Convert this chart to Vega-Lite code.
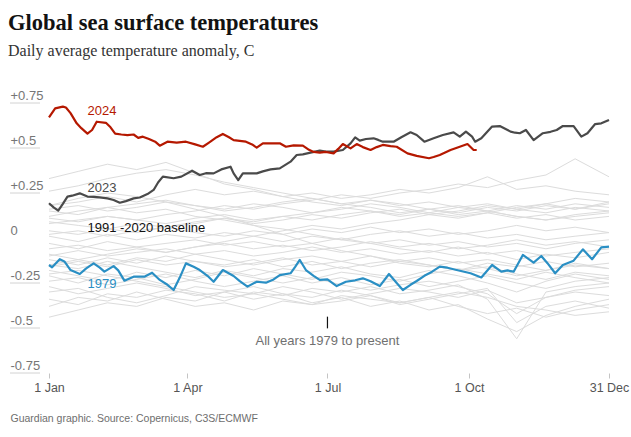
{
  "$schema": "https://vega.github.io/schema/vega-lite/v6.json",
  "autosize": {"type": "none"},
  "width": 618,
  "height": 270,
  "padding": {"left": 10, "top": 103, "right": 3, "bottom": 64},
  "background": "#ffffff",
  "config": {"view": {"stroke": null}},
  "title": {
    "text": "Global sea surface temperatures",
    "subtitle": "Daily average temperature anomaly, C",
    "anchor": "start",
    "frame": "group",
    "font": "Liberation Serif",
    "fontSize": 22.5,
    "fontWeight": "bold",
    "color": "#121212",
    "subtitleFont": "Liberation Serif",
    "subtitleFontSize": 16,
    "subtitleColor": "#333333",
    "subtitlePadding": 9,
    "offset": 30,
    "dx": -2
  },
  "datasets": {
    "grey": [
      {"year":"1982","day":1,"anomaly":-0.44},{"year":"1982","day":20,"anomaly":-0.40},{"year":"1982","day":39,"anomaly":-0.36},{"year":"1982","day":58,"anomaly":-0.38},{"year":"1982","day":77,"anomaly":-0.33},{"year":"1982","day":96,"anomaly":-0.35},{"year":"1982","day":115,"anomaly":-0.30},{"year":"1982","day":134,"anomaly":-0.34},{"year":"1982","day":153,"anomaly":-0.31},{"year":"1982","day":172,"anomaly":-0.36},{"year":"1982","day":191,"anomaly":-0.33},{"year":"1982","day":210,"anomaly":-0.38},{"year":"1982","day":229,"anomaly":-0.35},{"year":"1982","day":248,"anomaly":-0.40},{"year":"1982","day":267,"anomaly":-0.37},{"year":"1982","day":286,"anomaly":-0.45},{"year":"1982","day":305,"anomaly":-0.52},{"year":"1982","day":324,"anomaly":-0.43},{"year":"1982","day":343,"anomaly":-0.38},{"year":"1982","day":365,"anomaly":-0.34},
      {"year":"1985","day":1,"anomaly":-0.38},{"year":"1985","day":20,"anomaly":-0.33},{"year":"1985","day":39,"anomaly":-0.35},{"year":"1985","day":58,"anomaly":-0.30},{"year":"1985","day":77,"anomaly":-0.34},{"year":"1985","day":96,"anomaly":-0.38},{"year":"1985","day":115,"anomaly":-0.36},{"year":"1985","day":134,"anomaly":-0.40},{"year":"1985","day":153,"anomaly":-0.35},{"year":"1985","day":172,"anomaly":-0.37},{"year":"1985","day":191,"anomaly":-0.32},{"year":"1985","day":210,"anomaly":-0.34},{"year":"1985","day":229,"anomaly":-0.36},{"year":"1985","day":248,"anomaly":-0.33},{"year":"1985","day":267,"anomaly":-0.38},{"year":"1985","day":286,"anomaly":-0.42},{"year":"1985","day":305,"anomaly":-0.39},{"year":"1985","day":324,"anomaly":-0.44},{"year":"1985","day":343,"anomaly":-0.40},{"year":"1985","day":365,"anomaly":-0.37},
      {"year":"1986","day":1,"anomaly":-0.34},{"year":"1986","day":20,"anomaly":-0.37},{"year":"1986","day":39,"anomaly":-0.31},{"year":"1986","day":58,"anomaly":-0.33},{"year":"1986","day":77,"anomaly":-0.29},{"year":"1986","day":96,"anomaly":-0.31},{"year":"1986","day":115,"anomaly":-0.35},{"year":"1986","day":134,"anomaly":-0.30},{"year":"1986","day":153,"anomaly":-0.32},{"year":"1986","day":172,"anomaly":-0.28},{"year":"1986","day":191,"anomaly":-0.30},{"year":"1986","day":210,"anomaly":-0.27},{"year":"1986","day":229,"anomaly":-0.31},{"year":"1986","day":248,"anomaly":-0.29},{"year":"1986","day":267,"anomaly":-0.26},{"year":"1986","day":286,"anomaly":-0.34},{"year":"1986","day":305,"anomaly":-0.56},{"year":"1986","day":324,"anomaly":-0.30},{"year":"1986","day":343,"anomaly":-0.27},{"year":"1986","day":365,"anomaly":-0.25},
      {"year":"1989","day":1,"anomaly":-0.30},{"year":"1989","day":20,"anomaly":-0.28},{"year":"1989","day":39,"anomaly":-0.33},{"year":"1989","day":58,"anomaly":-0.36},{"year":"1989","day":77,"anomaly":-0.32},{"year":"1989","day":96,"anomaly":-0.27},{"year":"1989","day":115,"anomaly":-0.29},{"year":"1989","day":134,"anomaly":-0.31},{"year":"1989","day":153,"anomaly":-0.27},{"year":"1989","day":172,"anomaly":-0.30},{"year":"1989","day":191,"anomaly":-0.34},{"year":"1989","day":210,"anomaly":-0.31},{"year":"1989","day":229,"anomaly":-0.28},{"year":"1989","day":248,"anomaly":-0.30},{"year":"1989","day":267,"anomaly":-0.33},{"year":"1989","day":286,"anomaly":-0.29},{"year":"1989","day":305,"anomaly":-0.36},{"year":"1989","day":324,"anomaly":-0.33},{"year":"1989","day":343,"anomaly":-0.30},{"year":"1989","day":365,"anomaly":-0.32},
      {"year":"1984","day":1,"anomaly":-0.27},{"year":"1984","day":20,"anomaly":-0.31},{"year":"1984","day":39,"anomaly":-0.28},{"year":"1984","day":58,"anomaly":-0.25},{"year":"1984","day":77,"anomaly":-0.28},{"year":"1984","day":96,"anomaly":-0.32},{"year":"1984","day":115,"anomaly":-0.30},{"year":"1984","day":134,"anomaly":-0.27},{"year":"1984","day":153,"anomaly":-0.31},{"year":"1984","day":172,"anomaly":-0.33},{"year":"1984","day":191,"anomaly":-0.29},{"year":"1984","day":210,"anomaly":-0.32},{"year":"1984","day":229,"anomaly":-0.37},{"year":"1984","day":248,"anomaly":-0.34},{"year":"1984","day":267,"anomaly":-0.31},{"year":"1984","day":286,"anomaly":-0.28},{"year":"1984","day":305,"anomaly":-0.47},{"year":"1984","day":324,"anomaly":-0.38},{"year":"1984","day":343,"anomaly":-0.35},{"year":"1984","day":365,"anomaly":-0.39},
      {"year":"1993","day":1,"anomaly":-0.24},{"year":"1993","day":20,"anomaly":-0.22},{"year":"1993","day":39,"anomaly":-0.26},{"year":"1993","day":58,"anomaly":-0.23},{"year":"1993","day":77,"anomaly":-0.20},{"year":"1993","day":96,"anomaly":-0.24},{"year":"1993","day":115,"anomaly":-0.27},{"year":"1993","day":134,"anomaly":-0.24},{"year":"1993","day":153,"anomaly":-0.21},{"year":"1993","day":172,"anomaly":-0.25},{"year":"1993","day":191,"anomaly":-0.22},{"year":"1993","day":210,"anomaly":-0.26},{"year":"1993","day":229,"anomaly":-0.23},{"year":"1993","day":248,"anomaly":-0.27},{"year":"1993","day":267,"anomaly":-0.24},{"year":"1993","day":286,"anomaly":-0.21},{"year":"1993","day":305,"anomaly":-0.25},{"year":"1993","day":324,"anomaly":-0.28},{"year":"1993","day":343,"anomaly":-0.24},{"year":"1993","day":365,"anomaly":-0.22},
      {"year":"1992","day":1,"anomaly":-0.21},{"year":"1992","day":20,"anomaly":-0.25},{"year":"1992","day":39,"anomaly":-0.20},{"year":"1992","day":58,"anomaly":-0.22},{"year":"1992","day":77,"anomaly":-0.26},{"year":"1992","day":96,"anomaly":-0.23},{"year":"1992","day":115,"anomaly":-0.19},{"year":"1992","day":134,"anomaly":-0.22},{"year":"1992","day":153,"anomaly":-0.25},{"year":"1992","day":172,"anomaly":-0.22},{"year":"1992","day":191,"anomaly":-0.26},{"year":"1992","day":210,"anomaly":-0.29},{"year":"1992","day":229,"anomaly":-0.26},{"year":"1992","day":248,"anomaly":-0.24},{"year":"1992","day":267,"anomaly":-0.27},{"year":"1992","day":286,"anomaly":-0.31},{"year":"1992","day":305,"anomaly":-0.42},{"year":"1992","day":324,"anomaly":-0.33},{"year":"1992","day":343,"anomaly":-0.29},{"year":"1992","day":365,"anomaly":-0.27},
      {"year":"1996","day":1,"anomaly":-0.18},{"year":"1996","day":20,"anomaly":-0.21},{"year":"1996","day":39,"anomaly":-0.24},{"year":"1996","day":58,"anomaly":-0.19},{"year":"1996","day":77,"anomaly":-0.22},{"year":"1996","day":96,"anomaly":-0.18},{"year":"1996","day":115,"anomaly":-0.21},{"year":"1996","day":134,"anomaly":-0.17},{"year":"1996","day":153,"anomaly":-0.20},{"year":"1996","day":172,"anomaly":-0.23},{"year":"1996","day":191,"anomaly":-0.19},{"year":"1996","day":210,"anomaly":-0.21},{"year":"1996","day":229,"anomaly":-0.24},{"year":"1996","day":248,"anomaly":-0.20},{"year":"1996","day":267,"anomaly":-0.17},{"year":"1996","day":286,"anomaly":-0.20},{"year":"1996","day":305,"anomaly":-0.23},{"year":"1996","day":324,"anomaly":-0.19},{"year":"1996","day":343,"anomaly":-0.22},{"year":"1996","day":365,"anomaly":-0.25},
      {"year":"1999","day":1,"anomaly":-0.15},{"year":"1999","day":20,"anomaly":-0.17},{"year":"1999","day":39,"anomaly":-0.13},{"year":"1999","day":58,"anomaly":-0.16},{"year":"1999","day":77,"anomaly":-0.19},{"year":"1999","day":96,"anomaly":-0.22},{"year":"1999","day":115,"anomaly":-0.18},{"year":"1999","day":134,"anomaly":-0.21},{"year":"1999","day":153,"anomaly":-0.17},{"year":"1999","day":172,"anomaly":-0.19},{"year":"1999","day":191,"anomaly":-0.16},{"year":"1999","day":210,"anomaly":-0.20},{"year":"1999","day":229,"anomaly":-0.22},{"year":"1999","day":248,"anomaly":-0.18},{"year":"1999","day":267,"anomaly":-0.21},{"year":"1999","day":286,"anomaly":-0.25},{"year":"1999","day":305,"anomaly":-0.30},{"year":"1999","day":324,"anomaly":-0.24},{"year":"1999","day":343,"anomaly":-0.20},{"year":"1999","day":365,"anomaly":-0.23},
      {"year":"2000","day":1,"anomaly":-0.16},{"year":"2000","day":20,"anomaly":-0.13},{"year":"2000","day":39,"anomaly":-0.16},{"year":"2000","day":58,"anomaly":-0.12},{"year":"2000","day":77,"anomaly":-0.15},{"year":"2000","day":96,"anomaly":-0.13},{"year":"2000","day":115,"anomaly":-0.16},{"year":"2000","day":134,"anomaly":-0.14},{"year":"2000","day":153,"anomaly":-0.11},{"year":"2000","day":172,"anomaly":-0.15},{"year":"2000","day":191,"anomaly":-0.13},{"year":"2000","day":210,"anomaly":-0.10},{"year":"2000","day":229,"anomaly":-0.14},{"year":"2000","day":248,"anomaly":-0.16},{"year":"2000","day":267,"anomaly":-0.13},{"year":"2000","day":286,"anomaly":-0.17},{"year":"2000","day":305,"anomaly":-0.21},{"year":"2000","day":324,"anomaly":-0.18},{"year":"2000","day":343,"anomaly":-0.15},{"year":"2000","day":365,"anomaly":-0.17},
      {"year":"1990","day":1,"anomaly":-0.12},{"year":"1990","day":20,"anomaly":-0.15},{"year":"1990","day":39,"anomaly":-0.11},{"year":"1990","day":58,"anomaly":-0.14},{"year":"1990","day":77,"anomaly":-0.10},{"year":"1990","day":96,"anomaly":-0.13},{"year":"1990","day":115,"anomaly":-0.15},{"year":"1990","day":134,"anomaly":-0.12},{"year":"1990","day":153,"anomaly":-0.16},{"year":"1990","day":172,"anomaly":-0.13},{"year":"1990","day":191,"anomaly":-0.17},{"year":"1990","day":210,"anomaly":-0.14},{"year":"1990","day":229,"anomaly":-0.12},{"year":"1990","day":248,"anomaly":-0.15},{"year":"1990","day":267,"anomaly":-0.18},{"year":"1990","day":286,"anomaly":-0.14},{"year":"1990","day":305,"anomaly":-0.16},{"year":"1990","day":324,"anomaly":-0.13},{"year":"1990","day":343,"anomaly":-0.16},{"year":"1990","day":365,"anomaly":-0.14},
      {"year":"1995","day":1,"anomaly":-0.09},{"year":"1995","day":20,"anomaly":-0.12},{"year":"1995","day":39,"anomaly":-0.15},{"year":"1995","day":58,"anomaly":-0.11},{"year":"1995","day":77,"anomaly":-0.13},{"year":"1995","day":96,"anomaly":-0.09},{"year":"1995","day":115,"anomaly":-0.12},{"year":"1995","day":134,"anomaly":-0.15},{"year":"1995","day":153,"anomaly":-0.12},{"year":"1995","day":172,"anomaly":-0.10},{"year":"1995","day":191,"anomaly":-0.13},{"year":"1995","day":210,"anomaly":-0.16},{"year":"1995","day":229,"anomaly":-0.13},{"year":"1995","day":248,"anomaly":-0.11},{"year":"1995","day":267,"anomaly":-0.14},{"year":"1995","day":286,"anomaly":-0.12},{"year":"1995","day":305,"anomaly":-0.15},{"year":"1995","day":324,"anomaly":-0.18},{"year":"1995","day":343,"anomaly":-0.14},{"year":"1995","day":365,"anomaly":-0.17},
      {"year":"2001","day":1,"anomaly":-0.10},{"year":"2001","day":20,"anomaly":-0.07},{"year":"2001","day":39,"anomaly":-0.10},{"year":"2001","day":58,"anomaly":-0.08},{"year":"2001","day":77,"anomaly":-0.06},{"year":"2001","day":96,"anomaly":-0.09},{"year":"2001","day":115,"anomaly":-0.07},{"year":"2001","day":134,"anomaly":-0.10},{"year":"2001","day":153,"anomaly":-0.08},{"year":"2001","day":172,"anomaly":-0.05},{"year":"2001","day":191,"anomaly":-0.08},{"year":"2001","day":210,"anomaly":-0.06},{"year":"2001","day":229,"anomaly":-0.09},{"year":"2001","day":248,"anomaly":-0.07},{"year":"2001","day":267,"anomaly":-0.10},{"year":"2001","day":286,"anomaly":-0.08},{"year":"2001","day":305,"anomaly":-0.12},{"year":"2001","day":324,"anomaly":-0.09},{"year":"2001","day":343,"anomaly":-0.11},{"year":"2001","day":365,"anomaly":-0.08},
      {"year":"2002","day":1,"anomaly":-0.06},{"year":"2002","day":20,"anomaly":-0.04},{"year":"2002","day":39,"anomaly":-0.07},{"year":"2002","day":58,"anomaly":-0.05},{"year":"2002","day":77,"anomaly":-0.08},{"year":"2002","day":96,"anomaly":-0.05},{"year":"2002","day":115,"anomaly":-0.03},{"year":"2002","day":134,"anomaly":-0.06},{"year":"2002","day":153,"anomaly":-0.04},{"year":"2002","day":172,"anomaly":-0.07},{"year":"2002","day":191,"anomaly":-0.05},{"year":"2002","day":210,"anomaly":-0.02},{"year":"2002","day":229,"anomaly":-0.05},{"year":"2002","day":248,"anomaly":-0.03},{"year":"2002","day":267,"anomaly":-0.06},{"year":"2002","day":286,"anomaly":-0.04},{"year":"2002","day":305,"anomaly":-0.01},{"year":"2002","day":324,"anomaly":-0.04},{"year":"2002","day":343,"anomaly":-0.02},{"year":"2002","day":365,"anomaly":-0.05},
      {"year":"2003","day":1,"anomaly":-0.03},{"year":"2003","day":20,"anomaly":-0.06},{"year":"2003","day":39,"anomaly":-0.02},{"year":"2003","day":58,"anomaly":-0.05},{"year":"2003","day":77,"anomaly":-0.03},{"year":"2003","day":96,"anomaly":-0.01},{"year":"2003","day":115,"anomaly":-0.04},{"year":"2003","day":134,"anomaly":-0.02},{"year":"2003","day":153,"anomaly":-0.05},{"year":"2003","day":172,"anomaly":-0.03},{"year":"2003","day":191,"anomaly":0.00},{"year":"2003","day":210,"anomaly":-0.03},{"year":"2003","day":229,"anomaly":-0.01},{"year":"2003","day":248,"anomaly":-0.04},{"year":"2003","day":267,"anomaly":-0.02},{"year":"2003","day":286,"anomaly":-0.05},{"year":"2003","day":305,"anomaly":-0.03},{"year":"2003","day":324,"anomaly":-0.06},{"year":"2003","day":343,"anomaly":-0.03},{"year":"2003","day":365,"anomaly":-0.01},
      {"year":"2004","day":1,"anomaly":0.01},{"year":"2004","day":20,"anomaly":-0.02},{"year":"2004","day":39,"anomaly":0.02},{"year":"2004","day":58,"anomaly":-0.01},{"year":"2004","day":77,"anomaly":0.02},{"year":"2004","day":96,"anomaly":0.00},{"year":"2004","day":115,"anomaly":0.03},{"year":"2004","day":134,"anomaly":0.01},{"year":"2004","day":153,"anomaly":-0.02},{"year":"2004","day":172,"anomaly":0.01},{"year":"2004","day":191,"anomaly":-0.01},{"year":"2004","day":210,"anomaly":0.02},{"year":"2004","day":229,"anomaly":0.04},{"year":"2004","day":248,"anomaly":0.01},{"year":"2004","day":267,"anomaly":0.03},{"year":"2004","day":286,"anomaly":0.00},{"year":"2004","day":305,"anomaly":0.02},{"year":"2004","day":324,"anomaly":-0.01},{"year":"2004","day":343,"anomaly":0.01},{"year":"2004","day":365,"anomaly":0.03},
      {"year":"2005","day":1,"anomaly":0.04},{"year":"2005","day":20,"anomaly":0.02},{"year":"2005","day":39,"anomaly":0.05},{"year":"2005","day":58,"anomaly":0.03},{"year":"2005","day":77,"anomaly":0.06},{"year":"2005","day":96,"anomaly":0.03},{"year":"2005","day":115,"anomaly":0.01},{"year":"2005","day":134,"anomaly":0.04},{"year":"2005","day":153,"anomaly":0.02},{"year":"2005","day":172,"anomaly":0.05},{"year":"2005","day":191,"anomaly":0.03},{"year":"2005","day":210,"anomaly":0.06},{"year":"2005","day":229,"anomaly":0.03},{"year":"2005","day":248,"anomaly":0.05},{"year":"2005","day":267,"anomaly":0.02},{"year":"2005","day":286,"anomaly":0.04},{"year":"2005","day":305,"anomaly":0.07},{"year":"2005","day":324,"anomaly":0.04},{"year":"2005","day":343,"anomaly":0.06},{"year":"2005","day":365,"anomaly":0.03},
      {"year":"2010","day":1,"anomaly":0.12},{"year":"2010","day":20,"anomaly":0.15},{"year":"2010","day":39,"anomaly":0.17},{"year":"2010","day":58,"anomaly":0.14},{"year":"2010","day":77,"anomaly":0.16},{"year":"2010","day":96,"anomaly":0.12},{"year":"2010","day":115,"anomaly":0.10},{"year":"2010","day":134,"anomaly":0.07},{"year":"2010","day":153,"anomaly":0.05},{"year":"2010","day":172,"anomaly":0.02},{"year":"2010","day":191,"anomaly":-0.01},{"year":"2010","day":210,"anomaly":-0.03},{"year":"2010","day":229,"anomaly":-0.06},{"year":"2010","day":248,"anomaly":-0.08},{"year":"2010","day":267,"anomaly":-0.05},{"year":"2010","day":286,"anomaly":-0.09},{"year":"2010","day":305,"anomaly":-0.07},{"year":"2010","day":324,"anomaly":-0.10},{"year":"2010","day":343,"anomaly":-0.08},{"year":"2010","day":365,"anomaly":-0.06},
      {"year":"2014","day":1,"anomaly":0.02},{"year":"2014","day":20,"anomaly":0.04},{"year":"2014","day":39,"anomaly":0.01},{"year":"2014","day":58,"anomaly":0.04},{"year":"2014","day":77,"anomaly":0.06},{"year":"2014","day":96,"anomaly":0.08},{"year":"2014","day":115,"anomaly":0.11},{"year":"2014","day":134,"anomaly":0.09},{"year":"2014","day":153,"anomaly":0.12},{"year":"2014","day":172,"anomaly":0.10},{"year":"2014","day":191,"anomaly":0.13},{"year":"2014","day":210,"anomaly":0.15},{"year":"2014","day":229,"anomaly":0.12},{"year":"2014","day":248,"anomaly":0.14},{"year":"2014","day":267,"anomaly":0.17},{"year":"2014","day":286,"anomaly":0.15},{"year":"2014","day":305,"anomaly":0.18},{"year":"2014","day":324,"anomaly":0.16},{"year":"2014","day":343,"anomaly":0.19},{"year":"2014","day":365,"anomaly":0.17},
      {"year":"2015","day":1,"anomaly":0.08},{"year":"2015","day":20,"anomaly":0.10},{"year":"2015","day":39,"anomaly":0.12},{"year":"2015","day":58,"anomaly":0.10},{"year":"2015","day":77,"anomaly":0.13},{"year":"2015","day":96,"anomaly":0.15},{"year":"2015","day":115,"anomaly":0.18},{"year":"2015","day":134,"anomaly":0.16},{"year":"2015","day":153,"anomaly":0.19},{"year":"2015","day":172,"anomaly":0.21},{"year":"2015","day":191,"anomaly":0.24},{"year":"2015","day":210,"anomaly":0.22},{"year":"2015","day":229,"anomaly":0.25},{"year":"2015","day":248,"anomaly":0.27},{"year":"2015","day":267,"anomaly":0.30},{"year":"2015","day":286,"anomaly":0.28},{"year":"2015","day":305,"anomaly":0.32},{"year":"2015","day":324,"anomaly":0.35},{"year":"2015","day":343,"anomaly":0.44},{"year":"2015","day":365,"anomaly":0.34},
      {"year":"2016","day":1,"anomaly":0.33},{"year":"2016","day":20,"anomaly":0.37},{"year":"2016","day":39,"anomaly":0.41},{"year":"2016","day":58,"anomaly":0.38},{"year":"2016","day":77,"anomaly":0.42},{"year":"2016","day":96,"anomaly":0.36},{"year":"2016","day":115,"anomaly":0.30},{"year":"2016","day":134,"anomaly":0.27},{"year":"2016","day":153,"anomaly":0.23},{"year":"2016","day":172,"anomaly":0.20},{"year":"2016","day":191,"anomaly":0.18},{"year":"2016","day":210,"anomaly":0.21},{"year":"2016","day":229,"anomaly":0.19},{"year":"2016","day":248,"anomaly":0.16},{"year":"2016","day":267,"anomaly":0.18},{"year":"2016","day":286,"anomaly":0.15},{"year":"2016","day":305,"anomaly":0.12},{"year":"2016","day":324,"anomaly":0.10},{"year":"2016","day":343,"anomaly":0.13},{"year":"2016","day":365,"anomaly":0.15},
      {"year":"2017","day":1,"anomaly":0.15},{"year":"2017","day":20,"anomaly":0.13},{"year":"2017","day":39,"anomaly":0.17},{"year":"2017","day":58,"anomaly":0.19},{"year":"2017","day":77,"anomaly":0.21},{"year":"2017","day":96,"anomaly":0.18},{"year":"2017","day":115,"anomaly":0.16},{"year":"2017","day":134,"anomaly":0.19},{"year":"2017","day":153,"anomaly":0.17},{"year":"2017","day":172,"anomaly":0.14},{"year":"2017","day":191,"anomaly":0.16},{"year":"2017","day":210,"anomaly":0.19},{"year":"2017","day":229,"anomaly":0.17},{"year":"2017","day":248,"anomaly":0.14},{"year":"2017","day":267,"anomaly":0.12},{"year":"2017","day":286,"anomaly":0.14},{"year":"2017","day":305,"anomaly":0.11},{"year":"2017","day":324,"anomaly":0.13},{"year":"2017","day":343,"anomaly":0.10},{"year":"2017","day":365,"anomaly":0.12},
      {"year":"2018","day":1,"anomaly":0.09},{"year":"2018","day":20,"anomaly":0.07},{"year":"2018","day":39,"anomaly":0.05},{"year":"2018","day":58,"anomaly":0.08},{"year":"2018","day":77,"anomaly":0.06},{"year":"2018","day":96,"anomaly":0.09},{"year":"2018","day":115,"anomaly":0.11},{"year":"2018","day":134,"anomaly":0.08},{"year":"2018","day":153,"anomaly":0.10},{"year":"2018","day":172,"anomaly":0.13},{"year":"2018","day":191,"anomaly":0.11},{"year":"2018","day":210,"anomaly":0.14},{"year":"2018","day":229,"anomaly":0.16},{"year":"2018","day":248,"anomaly":0.13},{"year":"2018","day":267,"anomaly":0.15},{"year":"2018","day":286,"anomaly":0.18},{"year":"2018","day":305,"anomaly":0.16},{"year":"2018","day":324,"anomaly":0.19},{"year":"2018","day":343,"anomaly":0.22},{"year":"2018","day":365,"anomaly":0.20},
      {"year":"2019","day":1,"anomaly":0.18},{"year":"2019","day":20,"anomaly":0.20},{"year":"2019","day":39,"anomaly":0.23},{"year":"2019","day":58,"anomaly":0.20},{"year":"2019","day":77,"anomaly":0.24},{"year":"2019","day":96,"anomaly":0.27},{"year":"2019","day":115,"anomaly":0.24},{"year":"2019","day":134,"anomaly":0.26},{"year":"2019","day":153,"anomaly":0.23},{"year":"2019","day":172,"anomaly":0.25},{"year":"2019","day":191,"anomaly":0.22},{"year":"2019","day":210,"anomaly":0.24},{"year":"2019","day":229,"anomaly":0.27},{"year":"2019","day":248,"anomaly":0.25},{"year":"2019","day":267,"anomaly":0.28},{"year":"2019","day":286,"anomaly":0.34},{"year":"2019","day":305,"anomaly":0.27},{"year":"2019","day":324,"anomaly":0.29},{"year":"2019","day":343,"anomaly":0.26},{"year":"2019","day":365,"anomaly":0.24},
      {"year":"2020","day":1,"anomaly":0.26},{"year":"2020","day":20,"anomaly":0.29},{"year":"2020","day":39,"anomaly":0.33},{"year":"2020","day":58,"anomaly":0.36},{"year":"2020","day":77,"anomaly":0.38},{"year":"2020","day":96,"anomaly":0.35},{"year":"2020","day":115,"anomaly":0.31},{"year":"2020","day":134,"anomaly":0.28},{"year":"2020","day":153,"anomaly":0.25},{"year":"2020","day":172,"anomaly":0.22},{"year":"2020","day":191,"anomaly":0.19},{"year":"2020","day":210,"anomaly":0.17},{"year":"2020","day":229,"anomaly":0.14},{"year":"2020","day":248,"anomaly":0.16},{"year":"2020","day":267,"anomaly":0.13},{"year":"2020","day":286,"anomaly":0.15},{"year":"2020","day":305,"anomaly":0.12},{"year":"2020","day":324,"anomaly":0.10},{"year":"2020","day":343,"anomaly":0.12},{"year":"2020","day":365,"anomaly":0.14},
      {"year":"2021","day":1,"anomaly":0.11},{"year":"2021","day":20,"anomaly":0.09},{"year":"2021","day":39,"anomaly":0.12},{"year":"2021","day":58,"anomaly":0.10},{"year":"2021","day":77,"anomaly":0.08},{"year":"2021","day":96,"anomaly":0.11},{"year":"2021","day":115,"anomaly":0.13},{"year":"2021","day":134,"anomaly":0.10},{"year":"2021","day":153,"anomaly":0.12},{"year":"2021","day":172,"anomaly":0.14},{"year":"2021","day":191,"anomaly":0.17},{"year":"2021","day":210,"anomaly":0.15},{"year":"2021","day":229,"anomaly":0.13},{"year":"2021","day":248,"anomaly":0.16},{"year":"2021","day":267,"anomaly":0.14},{"year":"2021","day":286,"anomaly":0.17},{"year":"2021","day":305,"anomaly":0.15},{"year":"2021","day":324,"anomaly":0.18},{"year":"2021","day":343,"anomaly":0.16},{"year":"2021","day":365,"anomaly":0.19},
      {"year":"2022","day":1,"anomaly":0.16},{"year":"2022","day":20,"anomaly":0.18},{"year":"2022","day":39,"anomaly":0.15},{"year":"2022","day":58,"anomaly":0.17},{"year":"2022","day":77,"anomaly":0.20},{"year":"2022","day":96,"anomaly":0.18},{"year":"2022","day":115,"anomaly":0.15},{"year":"2022","day":134,"anomaly":0.17},{"year":"2022","day":153,"anomaly":0.20},{"year":"2022","day":172,"anomaly":0.22},{"year":"2022","day":191,"anomaly":0.19},{"year":"2022","day":210,"anomaly":0.21},{"year":"2022","day":229,"anomaly":0.18},{"year":"2022","day":248,"anomaly":0.20},{"year":"2022","day":267,"anomaly":0.17},{"year":"2022","day":286,"anomaly":0.19},{"year":"2022","day":305,"anomaly":0.16},{"year":"2022","day":324,"anomaly":0.14},{"year":"2022","day":343,"anomaly":0.17},{"year":"2022","day":365,"anomaly":0.15},
      {"year":"1997","day":1,"anomaly":-0.15},{"year":"1997","day":20,"anomaly":-0.12},{"year":"1997","day":39,"anomaly":-0.09},{"year":"1997","day":58,"anomaly":-0.06},{"year":"1997","day":77,"anomaly":-0.08},{"year":"1997","day":96,"anomaly":-0.05},{"year":"1997","day":115,"anomaly":-0.02},{"year":"1997","day":134,"anomaly":0.01},{"year":"1997","day":153,"anomaly":0.04},{"year":"1997","day":172,"anomaly":0.07},{"year":"1997","day":191,"anomaly":0.05},{"year":"1997","day":210,"anomaly":0.08},{"year":"1997","day":229,"anomaly":0.10},{"year":"1997","day":248,"anomaly":0.13},{"year":"1997","day":267,"anomaly":0.11},{"year":"1997","day":286,"anomaly":0.14},{"year":"1997","day":305,"anomaly":0.17},{"year":"1997","day":324,"anomaly":0.19},{"year":"1997","day":343,"anomaly":0.16},{"year":"1997","day":365,"anomaly":0.20},
      {"year":"1998","day":1,"anomaly":0.18},{"year":"1998","day":20,"anomaly":0.22},{"year":"1998","day":39,"anomaly":0.25},{"year":"1998","day":58,"anomaly":0.23},{"year":"1998","day":77,"anomaly":0.20},{"year":"1998","day":96,"anomaly":0.16},{"year":"1998","day":115,"anomaly":0.12},{"year":"1998","day":134,"anomaly":0.07},{"year":"1998","day":153,"anomaly":0.02},{"year":"1998","day":172,"anomaly":-0.03},{"year":"1998","day":191,"anomaly":-0.07},{"year":"1998","day":210,"anomaly":-0.10},{"year":"1998","day":229,"anomaly":-0.13},{"year":"1998","day":248,"anomaly":-0.15},{"year":"1998","day":267,"anomaly":-0.18},{"year":"1998","day":286,"anomaly":-0.16},{"year":"1998","day":305,"anomaly":-0.20},{"year":"1998","day":324,"anomaly":-0.23},{"year":"1998","day":343,"anomaly":-0.19},{"year":"1998","day":365,"anomaly":-0.21},
      {"year":"1983","day":1,"anomaly":-0.20},{"year":"1983","day":20,"anomaly":-0.18},{"year":"1983","day":39,"anomaly":-0.21},{"year":"1983","day":58,"anomaly":-0.24},{"year":"1983","day":77,"anomaly":-0.27},{"year":"1983","day":96,"anomaly":-0.30},{"year":"1983","day":115,"anomaly":-0.33},{"year":"1983","day":134,"anomaly":-0.31},{"year":"1983","day":153,"anomaly":-0.34},{"year":"1983","day":172,"anomaly":-0.37},{"year":"1983","day":191,"anomaly":-0.35},{"year":"1983","day":210,"anomaly":-0.32},{"year":"1983","day":229,"anomaly":-0.36},{"year":"1983","day":248,"anomaly":-0.33},{"year":"1983","day":267,"anomaly":-0.30},{"year":"1983","day":286,"anomaly":-0.33},{"year":"1983","day":305,"anomaly":-0.38},{"year":"1983","day":324,"anomaly":-0.40},{"year":"1983","day":343,"anomaly":-0.43},{"year":"1983","day":365,"anomaly":-0.41}
    ],
    "highlight": [
      {"year":"1979","day":1,"anomaly":-0.150},{"year":"1979","day":3,"anomaly":-0.163},{"year":"1979","day":8,"anomaly":-0.118},{"year":"1979","day":11,"anomaly":-0.130},{"year":"1979","day":15,"anomaly":-0.178},{"year":"1979","day":21,"anomaly":-0.200},{"year":"1979","day":25,"anomaly":-0.170},{"year":"1979","day":30,"anomaly":-0.141},{"year":"1979","day":34,"anomaly":-0.165},{"year":"1979","day":37,"anomaly":-0.187},{"year":"1979","day":43,"anomaly":-0.156},{"year":"1979","day":46,"anomaly":-0.180},{"year":"1979","day":50,"anomaly":-0.237},{"year":"1979","day":56,"anomaly":-0.215},{"year":"1979","day":63,"anomaly":-0.215},{"year":"1979","day":68,"anomaly":-0.193},{"year":"1979","day":73,"anomaly":-0.233},{"year":"1979","day":78,"anomaly":-0.260},{"year":"1979","day":82,"anomaly":-0.289},{"year":"1979","day":86,"anomaly":-0.220},{"year":"1979","day":90,"anomaly":-0.141},{"year":"1979","day":95,"anomaly":-0.160},{"year":"1979","day":99,"anomaly":-0.178},{"year":"1979","day":104,"anomaly":-0.210},{"year":"1979","day":108,"anomaly":-0.243},{"year":"1979","day":114,"anomaly":-0.178},{"year":"1979","day":121,"anomaly":-0.211},{"year":"1979","day":125,"anomaly":-0.240},{"year":"1979","day":130,"anomaly":-0.270},{"year":"1979","day":136,"anomaly":-0.243},{"year":"1979","day":142,"anomaly":-0.248},{"year":"1979","day":147,"anomaly":-0.230},{"year":"1979","day":151,"anomaly":-0.206},{"year":"1979","day":158,"anomaly":-0.196},{"year":"1979","day":161,"anomaly":-0.160},{"year":"1979","day":164,"anomaly":-0.122},{"year":"1979","day":168,"anomaly":-0.178},{"year":"1979","day":173,"anomaly":-0.210},{"year":"1979","day":177,"anomaly":-0.233},{"year":"1979","day":182,"anomaly":-0.230},{"year":"1979","day":188,"anomaly":-0.267},{"year":"1979","day":194,"anomaly":-0.243},{"year":"1979","day":200,"anomaly":-0.235},{"year":"1979","day":205,"anomaly":-0.224},{"year":"1979","day":210,"anomaly":-0.240},{"year":"1979","day":216,"anomaly":-0.267},{"year":"1979","day":222,"anomaly":-0.200},{"year":"1979","day":227,"anomaly":-0.250},{"year":"1979","day":231,"anomaly":-0.289},{"year":"1979","day":236,"anomaly":-0.260},{"year":"1979","day":240,"anomaly":-0.239},{"year":"1979","day":245,"anomaly":-0.210},{"year":"1979","day":250,"anomaly":-0.187},{"year":"1979","day":255,"anomaly":-0.159},{"year":"1979","day":260,"anomaly":-0.165},{"year":"1979","day":266,"anomaly":-0.178},{"year":"1979","day":275,"anomaly":-0.196},{"year":"1979","day":282,"anomaly":-0.219},{"year":"1979","day":289,"anomaly":-0.150},{"year":"1979","day":295,"anomaly":-0.187},{"year":"1979","day":299,"anomaly":-0.180},{"year":"1979","day":303,"anomaly":-0.187},{"year":"1979","day":309,"anomaly":-0.094},{"year":"1979","day":316,"anomaly":-0.137},{"year":"1979","day":321,"anomaly":-0.100},{"year":"1979","day":325,"anomaly":-0.140},{"year":"1979","day":330,"anomaly":-0.196},{"year":"1979","day":335,"anomaly":-0.150},{"year":"1979","day":342,"anomaly":-0.126},{"year":"1979","day":348,"anomaly":-0.063},{"year":"1979","day":354,"anomaly":-0.118},{"year":"1979","day":360,"anomaly":-0.052},{"year":"1979","day":365,"anomaly":-0.048},
      {"year":"2023","day":1,"anomaly":0.193},{"year":"2023","day":4,"anomaly":0.170},{"year":"2023","day":7,"anomaly":0.152},{"year":"2023","day":10,"anomaly":0.190},{"year":"2023","day":13,"anomaly":0.230},{"year":"2023","day":16,"anomaly":0.235},{"year":"2023","day":21,"anomaly":0.248},{"year":"2023","day":26,"anomaly":0.230},{"year":"2023","day":30,"anomaly":0.228},{"year":"2023","day":34,"anomaly":0.226},{"year":"2023","day":39,"anomaly":0.220},{"year":"2023","day":43,"anomaly":0.211},{"year":"2023","day":47,"anomaly":0.196},{"year":"2023","day":51,"anomaly":0.205},{"year":"2023","day":56,"anomaly":0.220},{"year":"2023","day":60,"anomaly":0.225},{"year":"2023","day":65,"anomaly":0.244},{"year":"2023","day":69,"anomaly":0.267},{"year":"2023","day":72,"anomaly":0.310},{"year":"2023","day":75,"anomaly":0.341},{"year":"2023","day":82,"anomaly":0.332},{"year":"2023","day":87,"anomaly":0.341},{"year":"2023","day":94,"anomaly":0.374},{"year":"2023","day":99,"anomaly":0.350},{"year":"2023","day":103,"anomaly":0.360},{"year":"2023","day":108,"anomaly":0.359},{"year":"2023","day":113,"anomaly":0.381},{"year":"2023","day":119,"anomaly":0.396},{"year":"2023","day":121,"anomaly":0.359},{"year":"2023","day":124,"anomaly":0.322},{"year":"2023","day":127,"anomaly":0.359},{"year":"2023","day":136,"anomaly":0.359},{"year":"2023","day":140,"anomaly":0.370},{"year":"2023","day":145,"anomaly":0.381},{"year":"2023","day":151,"anomaly":0.387},{"year":"2023","day":158,"anomaly":0.424},{"year":"2023","day":162,"anomaly":0.461},{"year":"2023","day":166,"anomaly":0.465},{"year":"2023","day":171,"anomaly":0.474},{"year":"2023","day":177,"anomaly":0.485},{"year":"2023","day":181,"anomaly":0.480},{"year":"2023","day":186,"anomaly":0.480},{"year":"2023","day":192,"anomaly":0.489},{"year":"2023","day":197,"anomaly":0.526},{"year":"2023","day":200,"anomaly":0.559},{"year":"2023","day":203,"anomaly":0.541},{"year":"2023","day":207,"anomaly":0.550},{"year":"2023","day":212,"anomaly":0.554},{"year":"2023","day":215,"anomaly":0.545},{"year":"2023","day":218,"anomaly":0.535},{"year":"2023","day":225,"anomaly":0.535},{"year":"2023","day":230,"anomaly":0.560},{"year":"2023","day":236,"anomaly":0.587},{"year":"2023","day":240,"anomaly":0.572},{"year":"2023","day":245,"anomaly":0.535},{"year":"2023","day":251,"anomaly":0.554},{"year":"2023","day":257,"anomaly":0.572},{"year":"2023","day":264,"anomaly":0.587},{"year":"2023","day":268,"anomaly":0.563},{"year":"2023","day":272,"anomaly":0.591},{"year":"2023","day":276,"anomaly":0.563},{"year":"2023","day":278,"anomaly":0.535},{"year":"2023","day":282,"anomaly":0.554},{"year":"2023","day":289,"anomaly":0.619},{"year":"2023","day":294,"anomaly":0.622},{"year":"2023","day":301,"anomaly":0.591},{"year":"2023","day":304,"anomaly":0.585},{"year":"2023","day":307,"anomaly":0.582},{"year":"2023","day":311,"anomaly":0.600},{"year":"2023","day":316,"anomaly":0.544},{"year":"2023","day":322,"anomaly":0.582},{"year":"2023","day":327,"anomaly":0.590},{"year":"2023","day":331,"anomaly":0.600},{"year":"2023","day":335,"anomaly":0.622},{"year":"2023","day":342,"anomaly":0.622},{"year":"2023","day":347,"anomaly":0.563},{"year":"2023","day":351,"anomaly":0.582},{"year":"2023","day":356,"anomaly":0.633},{"year":"2023","day":360,"anomaly":0.637},{"year":"2023","day":365,"anomaly":0.656},
      {"year":"2024","day":1,"anomaly":0.670},{"year":"2024","day":5,"anomaly":0.720},{"year":"2024","day":10,"anomaly":0.730},{"year":"2024","day":12,"anomaly":0.725},{"year":"2024","day":15,"anomaly":0.694},{"year":"2024","day":19,"anomaly":0.637},{"year":"2024","day":22,"anomaly":0.610},{"year":"2024","day":26,"anomaly":0.580},{"year":"2024","day":29,"anomaly":0.600},{"year":"2024","day":32,"anomaly":0.646},{"year":"2024","day":38,"anomaly":0.640},{"year":"2024","day":41,"anomaly":0.615},{"year":"2024","day":44,"anomaly":0.580},{"year":"2024","day":48,"anomaly":0.575},{"year":"2024","day":52,"anomaly":0.572},{"year":"2024","day":56,"anomaly":0.575},{"year":"2024","day":59,"anomaly":0.556},{"year":"2024","day":62,"anomaly":0.563},{"year":"2024","day":66,"anomaly":0.550},{"year":"2024","day":70,"anomaly":0.535},{"year":"2024","day":73,"anomaly":0.513},{"year":"2024","day":78,"anomaly":0.535},{"year":"2024","day":84,"anomaly":0.530},{"year":"2024","day":90,"anomaly":0.535},{"year":"2024","day":96,"anomaly":0.520},{"year":"2024","day":101,"anomaly":0.507},{"year":"2024","day":105,"anomaly":0.530},{"year":"2024","day":110,"anomaly":0.560},{"year":"2024","day":114,"anomaly":0.578},{"year":"2024","day":118,"anomaly":0.560},{"year":"2024","day":121,"anomaly":0.544},{"year":"2024","day":129,"anomaly":0.535},{"year":"2024","day":133,"anomaly":0.520},{"year":"2024","day":136,"anomaly":0.502},{"year":"2024","day":140,"anomaly":0.526},{"year":"2024","day":151,"anomaly":0.526},{"year":"2024","day":155,"anomaly":0.507},{"year":"2024","day":160,"anomaly":0.515},{"year":"2024","day":166,"anomaly":0.513},{"year":"2024","day":170,"anomaly":0.490},{"year":"2024","day":173,"anomaly":0.478},{"year":"2024","day":177,"anomaly":0.474},{"year":"2024","day":181,"anomaly":0.478},{"year":"2024","day":186,"anomaly":0.470},{"year":"2024","day":189,"anomaly":0.495},{"year":"2024","day":192,"anomaly":0.522},{"year":"2024","day":197,"anomaly":0.498},{"year":"2024","day":201,"anomaly":0.522},{"year":"2024","day":205,"anomaly":0.505},{"year":"2024","day":210,"anomaly":0.489},{"year":"2024","day":214,"anomaly":0.505},{"year":"2024","day":218,"anomaly":0.517},{"year":"2024","day":223,"anomaly":0.510},{"year":"2024","day":227,"anomaly":0.507},{"year":"2024","day":234,"anomaly":0.470},{"year":"2024","day":240,"anomaly":0.456},{"year":"2024","day":248,"anomaly":0.443},{"year":"2024","day":251,"anomaly":0.450},{"year":"2024","day":255,"anomaly":0.461},{"year":"2024","day":262,"anomaly":0.489},{"year":"2024","day":268,"anomaly":0.507},{"year":"2024","day":273,"anomaly":0.522},{"year":"2024","day":277,"anomaly":0.489},{"year":"2024","day":279,"anomaly":0.489}
    ],
    "yTicks": [
      {"tick": 0.75}, {"tick": 0.5}, {"tick": 0.25}, {"tick": -0.25}, {"tick": -0.5}, {"tick": -0.75}
    ],
    "yearLabels": [
      {"year":"2024","day":26,"anomaly":0.706,"label":"2024"},
      {"year":"2023","day":26,"anomaly":0.278,"label":"2023"},
      {"year":"1979","day":26,"anomaly":-0.256,"label":"1979"}
    ],
    "baselineLabel": [
      {"day":26,"anomaly":0.053,"label":"1991 -2020 baseline"}
    ],
    "allYears": [
      {"day":182,"anomaly":-0.572,"tickTop":-0.437,"tickBottom":-0.502,"label":"All years 1979 to present"}
    ]
  },
  "layer": [
    {
      "data": {"name": "grey"},
      "mark": {"type": "line", "color": "#dcdcdc", "strokeWidth": 1},
      "encoding": {
        "x": {
          "field": "day", "type": "quantitative",
          "scale": {"domain": [-24.35, 377.35], "nice": false, "zero": false},
          "axis": {
            "values": [1, 91, 182, 274, 365],
            "labelExpr": "datum.value == 1 ? '1 Jan' : datum.value == 91 ? '1 Apr' : datum.value == 182 ? '1 Jul' : datum.value == 274 ? '1 Oct' : '31 Dec'",
            "title": "Guardian graphic. Source: Copernicus, C3S/ECMWF",
            "titleAnchor": "start", "titleAlign": "left",
            "titleFont": "Liberation Sans", "titleFontSize": 10.5, "titleFontWeight": "normal", "titleColor": "#6e6e6e",
            "titlePadding": 20,
            "domain": false, "grid": false,
            "ticks": true, "tickSize": 5, "tickColor": "#c4c4c4",
            "labelFont": "Liberation Sans", "labelFontSize": 12.5, "labelColor": "#555555",
            "labelPadding": 3, "labelFlush": false
          }
        },
        "y": {
          "field": "anomaly", "type": "quantitative",
          "scale": {"domain": [-0.75, 0.75], "nice": false, "zero": false},
          "axis": {
            "values": [-0.75, -0.5, -0.25, 0, 0.25, 0.5, 0.75],
            "labelExpr": "datum.value > 0 ? '+' + datum.value : '' + datum.value",
            "title": null,
            "domain": false, "grid": false, "ticks": false,
            "labelAlign": "left", "labelBaseline": "alphabetic", "labelOffset": -4, "labelPadding": 0,
            "labelFont": "Liberation Sans", "labelFontSize": 13, "labelColor": "#767676",
            "labelBound": false, "labelFlush": false
          }
        },
        "detail": {"field": "year", "type": "nominal"}
      }
    },
    {
      "data": {"name": "yTicks"},
      "mark": {"type": "rule", "color": "#d2d2d2", "strokeWidth": 1},
      "encoding": {
        "y": {"field": "tick", "type": "quantitative"},
        "x": {"datum": -24.35, "type": "quantitative"},
        "x2": {"datum": -4.85}
      }
    },
    {
      "mark": {"type": "rule", "color": "#333333", "strokeWidth": 1.6},
      "encoding": {"y": {"datum": 0, "type": "quantitative"}}
    },
    {
      "data": {"name": "highlight"},
      "mark": {"type": "line", "strokeWidth": 2.2, "strokeJoin": "round"},
      "encoding": {
        "x": {"field": "day", "type": "quantitative"},
        "y": {"field": "anomaly", "type": "quantitative"},
        "color": {"field": "year", "type": "nominal", "scale": {"domain": ["1979", "2023", "2024"], "range": ["#2a8fc4", "#4a4a4a", "#b51800"]}, "legend": null},
        "detail": {"field": "year", "type": "nominal"}
      }
    },
    {
      "data": {"name": "yearLabels"},
      "mark": {"type": "text", "align": "left", "baseline": "middle", "font": "Liberation Sans", "fontSize": 13},
      "encoding": {
        "x": {"field": "day", "type": "quantitative"},
        "y": {"field": "anomaly", "type": "quantitative"},
        "text": {"field": "label"},
        "color": {"field": "year", "type": "nominal", "legend": null}
      }
    },
    {
      "data": {"name": "baselineLabel"},
      "mark": {"type": "text", "align": "left", "baseline": "middle", "font": "Liberation Sans", "fontSize": 13, "color": "#121212"},
      "encoding": {
        "x": {"field": "day", "type": "quantitative"},
        "y": {"field": "anomaly", "type": "quantitative"},
        "text": {"field": "label"}
      }
    },
    {
      "data": {"name": "allYears"},
      "mark": {"type": "rule", "color": "#121212", "strokeWidth": 1.2},
      "encoding": {
        "x": {"field": "day", "type": "quantitative"},
        "y": {"field": "tickTop", "type": "quantitative"},
        "y2": {"field": "tickBottom"}
      }
    },
    {
      "data": {"name": "allYears"},
      "mark": {"type": "text", "align": "center", "baseline": "middle", "font": "Liberation Sans", "fontSize": 13, "color": "#707070"},
      "encoding": {
        "x": {"field": "day", "type": "quantitative"},
        "y": {"field": "anomaly", "type": "quantitative"},
        "text": {"field": "label"}
      }
    }
  ]
}
